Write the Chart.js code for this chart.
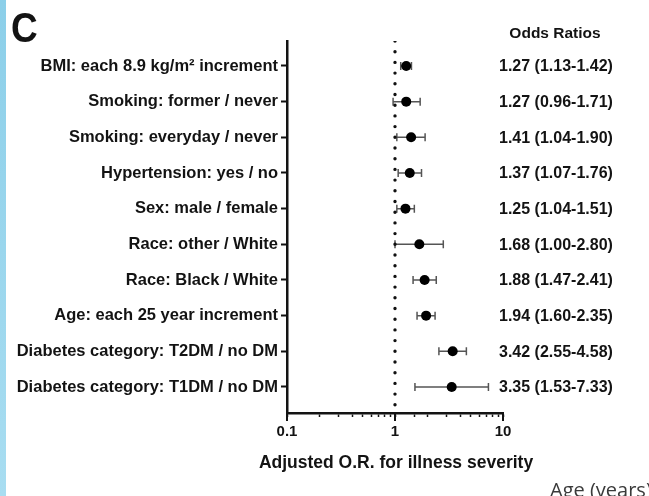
<!DOCTYPE html>
<html>
<head>
<meta charset="utf-8">
<script src="https://cdn.jsdelivr.net/npm/chart.js@4/dist/chart.umd.min.js"></script>
<style>
  html, body { margin: 0; padding: 0; background: #fff; overflow: hidden; }
  #wrap { position: relative; width: 649px; height: 496px; }
</style>
</head>
<body>
<div id="wrap"><canvas id="forest"></canvas></div>
<script>
// rows, top to bottom
const labels = [
  'BMI: each 8.9 kg/m\u00B2 increment',
  'Smoking: former / never',
  'Smoking: everyday / never',
  'Hypertension: yes / no',
  'Sex: male / female',
  'Race: other / White',
  'Race: Black / White',
  'Age: each 25 year increment',
  'Diabetes category: T2DM / no DM',
  'Diabetes category: T1DM / no DM'
];
const oddsRatio = [1.27, 1.27, 1.41, 1.37, 1.25, 1.68, 1.88, 1.94, 3.42, 3.35];
const ciLow     = [1.13, 0.96, 1.04, 1.07, 1.04, 1.00, 1.47, 1.60, 2.55, 1.53];
const ciHigh    = [1.42, 1.71, 1.90, 1.76, 1.51, 2.80, 2.41, 2.35, 4.58, 7.33];
const xTickLabels = ['0.1', '1', '10'];
const refValue = 1;

const FONT = '"Liberation Sans", Arial, sans-serif';
const INK = '#131313';
Chart.defaults.font.family = FONT;
Chart.defaults.color = INK;

function fmt(v){ return v.toFixed(2); }
function isDecade(v){
  const l = Math.log10(v);
  return Math.abs(l - Math.round(l)) < 1e-6;
}

const extras = {
  id: 'extras',
  beforeDraw(chart){
    const ctx = chart.ctx;
    const g = ctx.createLinearGradient(0, 0, 0, chart.height);
    g.addColorStop(0, '#8ccfe9');
    g.addColorStop(1, '#a8ddf1');
    ctx.save();
    ctx.fillStyle = g;
    ctx.fillRect(0, 0, 6, chart.height);
    ctx.restore();
  },
  beforeDatasetsDraw(chart){
    // confidence interval whiskers
    const ctx = chart.ctx, xs = chart.scales.x, ys = chart.scales.y;
    ctx.save();
    ctx.strokeStyle = '#555';
    ctx.lineWidth = 1.5;
    ciLow.forEach((lo, i) => {
      const y = ys.getPixelForValue(i);
      const x0 = xs.getPixelForValue(lo), x1 = xs.getPixelForValue(ciHigh[i]);
      ctx.beginPath();
      ctx.moveTo(x0, y); ctx.lineTo(x1, y);
      ctx.moveTo(x0, y - 4); ctx.lineTo(x0, y + 4);
      ctx.moveTo(x1, y - 4); ctx.lineTo(x1, y + 4);
      ctx.stroke();
    });
    ctx.restore();
  },
  afterDraw(chart){
    const ctx = chart.ctx, xs = chart.scales.x, ys = chart.scales.y, a = chart.chartArea;
    ctx.save();
    // longer ticks at decades
    ctx.strokeStyle = INK;
    ctx.lineWidth = 2;
    xs.ticks.forEach(t => {
      if (!isDecade(t.value)) return;
      const x = xs.getPixelForValue(t.value);
      ctx.beginPath(); ctx.moveTo(x, a.bottom); ctx.lineTo(x, a.bottom + 8); ctx.stroke();
    });

    ctx.fillStyle = INK;
    // panel letter
    ctx.save();
    ctx.font = 'bold 43px ' + FONT;
    ctx.textBaseline = 'alphabetic';
    ctx.translate(11, 42);
    ctx.scale(0.86, 1);
    ctx.fillText('C', 0, 0);
    ctx.restore();

    // odds ratio column
    ctx.textBaseline = 'middle';
    ctx.textAlign = 'center';
    ctx.font = 'bold 15.5px ' + FONT;
    ctx.fillText('Odds Ratios', 555, 34);
    ctx.textAlign = 'left';
    ctx.font = 'bold 16px ' + FONT;
    oddsRatio.forEach((v, i) => {
      ctx.fillText(`${fmt(v)} (${fmt(ciLow[i])}-${fmt(ciHigh[i])})`, 499, ys.getPixelForValue(i) + 1);
    });

    // axis title
    ctx.textAlign = 'center';
    ctx.font = 'bold 17.5px ' + FONT;
    ctx.fillText('Adjusted O.R. for illness severity', (a.left + a.right) / 2 + 1, 463);

    // stray caption from the next panel, cut by the frame
    ctx.textAlign = 'left';
    ctx.textBaseline = 'alphabetic';
    ctx.fillStyle = '#3a3a3a';
    ctx.font = '20px "Open Sans", sans-serif';
    ctx.fillText('Age (years)', 550, 497);
    ctx.restore();
  }
};

new Chart(document.getElementById('forest'), {
  type: 'scatter',
  data: {
    datasets: [
      {
        label: 'Odds ratio',
        data: oddsRatio.map((v, i) => ({ x: v, y: i })),
        pointRadius: 5,
        pointBackgroundColor: '#000',
        pointBorderColor: '#000',
        pointBorderWidth: 0,
        order: 1
      },
      {
        type: 'line',
        label: 'No effect',
        data: [{ x: refValue, y: -0.7 }, { x: refValue, y: 9.73 }],
        borderColor: '#111',
        borderWidth: 3.4,
        borderDash: [0, 10.7],
        borderCapStyle: 'round',
        pointRadius: 0,
        fill: false,
        order: 2
      }
    ]
  },
  options: {
    responsive: true,
    maintainAspectRatio: false,
    animation: false,
    layout: { padding: { top: 41, right: 146, left: 0, bottom: 0 } },
    plugins: { legend: { display: false }, tooltip: { enabled: false } },
    scales: {
      x: {
        type: 'logarithmic',
        min: 0.1,
        max: 10,
        afterFit(s){ s.height = 83; },
        border: { display: true, color: INK, width: 2.5 },
        grid: { drawOnChartArea: false, color: INK, tickLength: 4, tickWidth: 1.5 },
        ticks: {
          autoSkip: false,
          maxRotation: 0,
          padding: 6,
          font: { size: 15, weight: 'bold' },
          color: INK,
          callback(v){
            if (!isDecade(v)) return '';
            return xTickLabels[Math.round(Math.log10(v)) + 1];
          }
        }
      },
      y: {
        type: 'linear',
        min: -0.7,
        max: 9.73,
        reverse: true,
        afterFit(s){ s.width = 287; },
        afterBuildTicks(s){ s.ticks = labels.map((_, i) => ({ value: i })); },
        border: { display: true, color: INK, width: 2.5 },
        grid: { drawOnChartArea: false, color: INK, tickLength: 6, tickWidth: 2 },
        ticks: {
          autoSkip: false,
          padding: 3,
          font: { size: 16.5, weight: 'bold' },
          color: INK,
          callback(v){ return labels[v]; }
        }
      }
    }
  },
  plugins: [extras]
});
</script>
</body>
</html>
